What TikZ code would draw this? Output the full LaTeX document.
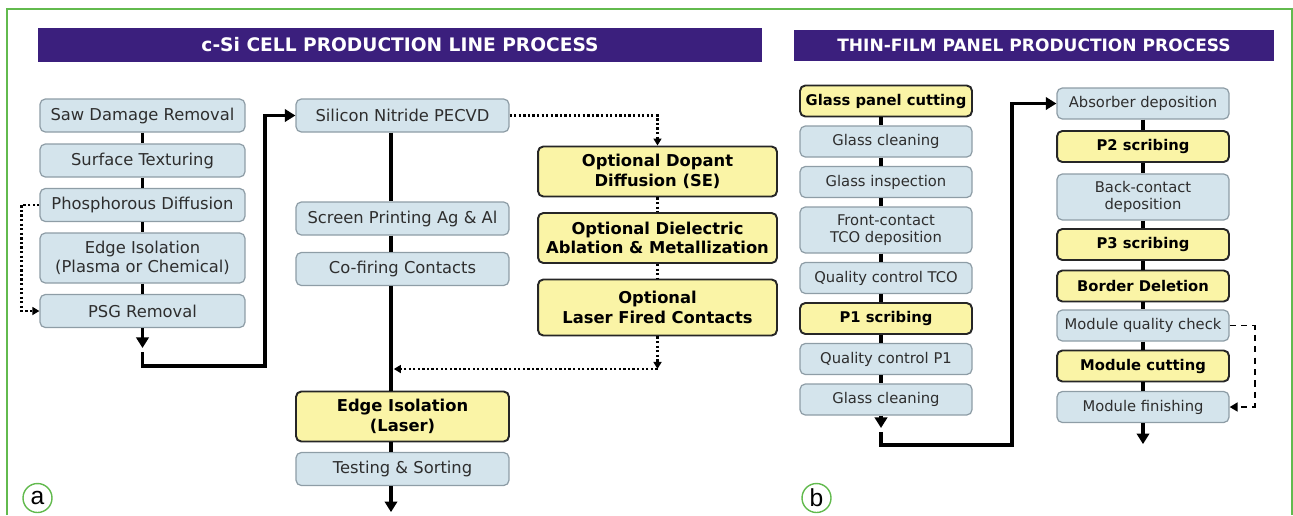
\documentclass[tikz,border=0pt]{standalone}
\usepackage{fontspec}
\setmainfont{DejaVu Sans}
\newfontfamily\lblfont{Liberation Sans}
\usetikzlibrary{arrows.meta}

\definecolor{hdrpurple}{HTML}{3B1F7D}
\definecolor{boxblue}{HTML}{D4E4EC}
\definecolor{boxedge}{HTML}{8E9DA6}
\definecolor{boxyellow}{HTML}{FAF4A6}
\definecolor{framegreen}{HTML}{62BA4E}
\definecolor{txtgray}{HTML}{2E2E2E}

\newcommand{\csisize}{\fontsize{9.3}{11}\selectfont}
\newcommand{\tfsize}{\fontsize{8.4}{9.8}\selectfont}

\tikzset{
	blubox/.style={draw=boxedge, fill=boxblue, line width=0.7pt, rounded corners=3pt,
		text=txtgray, align=center, inner sep=0pt},
	yelbox/.style={draw=black!85, fill=boxyellow, line width=1.1pt, rounded corners=3pt,
		text=black, align=center, inner sep=0pt},
	cbox/.style={blubox, font=\csisize, minimum height=0.66cm},
	cybox/.style={yelbox, font=\csisize\bfseries, minimum height=1.0cm},
	tbox/.style={blubox, font=\tfsize, minimum width=3.44cm, minimum height=0.62cm},
	tybox/.style={yelbox, font=\tfsize\bfseries, minimum width=3.44cm, minimum height=0.62cm},
	header/.style={fill=hdrpurple, text=white, inner sep=0pt},
	flow/.style={line width=1.8pt, line join=miter},
	flowtip/.style={flow, -{Triangle[width=7pt,length=6pt]}},
	dotline/.style={line width=1.3pt, dash pattern=on 1.3pt off 1.3pt},
	dottip/.style={dotline, -{Triangle[width=4.5pt,length=4pt]}},
	dashtip/.style={line width=1.1pt, dash pattern=on 3.5pt off 3pt, -{Triangle[width=5pt,length=4.5pt]}},
	tag/.style={circle, draw=framegreen, line width=0.8pt, minimum size=0.58cm, inner sep=0pt,
		font=\lblfont\fontsize{14}{14}\selectfont}
}

\begin{document}
\begin{tikzpicture}[x=0.02cm, y=-0.02cm]
	\useasboundingbox (0,0) rectangle (1293,515);
	\draw[framegreen, line width=0.9pt] (7,515) -- (7,9) -- (1292,9) -- (1292,515);
	
	% headers
	\node[header, minimum width=14.48cm, minimum height=0.68cm,
		font=\bfseries\fontsize{10.6}{12}\selectfont] (hdrcsi) at (400,45) {c-Si CELL PRODUCTION LINE PROCESS};
	\node[header, minimum width=9.6cm, minimum height=0.62cm,
		font=\bfseries\fontsize{9.7}{11}\selectfont] (hdrtf) at (1034,45.5) {THIN-FILM PANEL PRODUCTION PROCESS};
	
	% c-Si, first column
	\node[cbox, minimum width=4.1cm] (saw) at (142.5,115.5) {Saw Damage Removal};
	\node[cbox, minimum width=4.1cm] (tex) at (142.5,160.5) {Surface Texturing};
	\node[cbox, minimum width=4.1cm] (phos) at (142.5,205) {Phosphorous Diffusion};
	\node[cbox, minimum width=4.1cm, minimum height=1.0cm] (edgeiso) at (142.5,258) {Edge Isolation\\(Plasma or Chemical)};
	\node[cbox, minimum width=4.1cm] (psg) at (142.5,311) {PSG Removal};
	
	\foreach \a/\b in {saw/tex,tex/phos,phos/edgeiso,edgeiso/psg}
	{
		\draw[flow] (\a) -- (\b);
	}
	\draw[dottip] (phos.west) -- ++(-18,0) |- (psg.west);
	
	% c-Si, second column
	\coordinate (mx) at (391,0);
	\node[cbox, minimum width=4.26cm] (sin) at (402.5,115.5) {Silicon Nitride PECVD};
	\node[cbox, minimum width=4.26cm] (scr) at (402.5,218.5) {Screen Printing Ag \& Al};
	\node[cbox, minimum width=4.26cm] (cof) at (402.5,269) {Co-firing Contacts};
	\node[cybox, minimum width=4.26cm] (eil) at (402.5,416.5) {Edge Isolation\\(Laser)};
	\node[cbox, minimum width=4.26cm] (tst) at (402.5,469) {Testing \& Sorting};
	
	\foreach \a/\b in {sin/scr,scr/cof,cof/eil,eil/tst}
	{
		\draw[flow] (\a.south -| mx) -- (\b.north -| mx);
	}
	\draw[flowtip] (tst.south -| mx) -- ++(0,26);
	
	\coordinate (psgtip) at (142.5,348);
	\coordinate (riseA) at (265,366);
	\draw[flowtip] (psg.south) -- (psgtip);
	\draw[flowtip] (142.5,352) |- (riseA) |- (sin.west);
	
	% c-Si, optional steps
	\node[cybox, minimum width=4.78cm] (opd) at (657.5,171.5) {Optional Dopant\\Diffusion (SE)};
	\node[cybox, minimum width=4.78cm] (odl) at (657.5,238) {Optional Dielectric\\Ablation \& Metallization};
	\node[cybox, minimum width=4.78cm, minimum height=1.12cm] (olf) at (657.5,307.5) {Optional\\Laser Fired Contacts};
	
	\draw[dottip] (sin.east) -| (opd.north);
	\draw[dotline] (opd) -- (odl);
	\draw[dotline] (odl) -- (olf);
	\coordinate (dotc) at (657.5,369);
	\draw[dottip] (olf.south) -- (dotc);
	\draw[dottip, shorten >=1.6pt] (dotc) -- (dotc -| mx);
	
	% thin-film, first column
	\coordinate (lx) at (881,0);
	\node[tybox] (gpc) at (886,101) {Glass panel cutting};
	\node[tbox] (gcl) at (886,141.5) {Glass cleaning};
	\node[tbox] (gin) at (886,182) {Glass inspection};
	\node[tbox, minimum height=0.92cm] (fct) at (886,230) {Front-contact\\TCO deposition};
	\node[tbox] (qct) at (886,278) {Quality control TCO};
	\node[tybox] (pone) at (886,318.5) {P1 scribing};
	\node[tbox] (qpone) at (886,359) {Quality control P1};
	\node[tbox] (gcltwo) at (886,399.5) {Glass cleaning};
	
	\foreach \a/\b in {gpc/gcl,gcl/gin,gin/fct,fct/qct,qct/pone,pone/qpone,qpone/gcltwo}
	{
		\draw[flow] (\a.south -| lx) -- (\b.north -| lx);
	}
	\coordinate (gcltip) at (881,428);
	\coordinate (riseB) at (1012,445);
	\draw[flowtip] (gcltwo.south -| lx) -- (gcltip);
	
	% thin-film, second column
	\node[tbox] (abs) at (1143,103.5) {Absorber deposition};
	\node[tybox] (ptwo) at (1143,146.5) {P2 scribing};
	\node[tbox, minimum height=0.92cm] (bcd) at (1143,197) {Back-contact\\deposition};
	\node[tybox] (pthree) at (1143,244.5) {P3 scribing};
	\node[tybox] (bdl) at (1143,286) {Border Deletion};
	\node[tbox] (mqc) at (1143,325.5) {Module quality check};
	\node[tybox] (mcu) at (1143,366) {Module cutting};
	\node[tbox] (mfi) at (1143,407) {Module finishing};
	
	\foreach \a/\b in {abs/ptwo,ptwo/bcd,bcd/pthree,pthree/bdl,bdl/mqc,mqc/mcu,mcu/mfi}
	{
		\draw[flow] (\a) -- (\b);
	}
	\draw[flowtip] (881,432) |- (riseB) |- (abs.west);
	\draw[flowtip] (mfi.south) -- ++(0,21);
	\draw[dashtip] (mqc.east) -- ++(25,0) |- (mfi.east);
	
	% panel tags
	\node[tag] (taga) at (37.5,498) {a};
	\node[tag] (tagb) at (816.5,498) {b};
\end{tikzpicture}
\end{document}
